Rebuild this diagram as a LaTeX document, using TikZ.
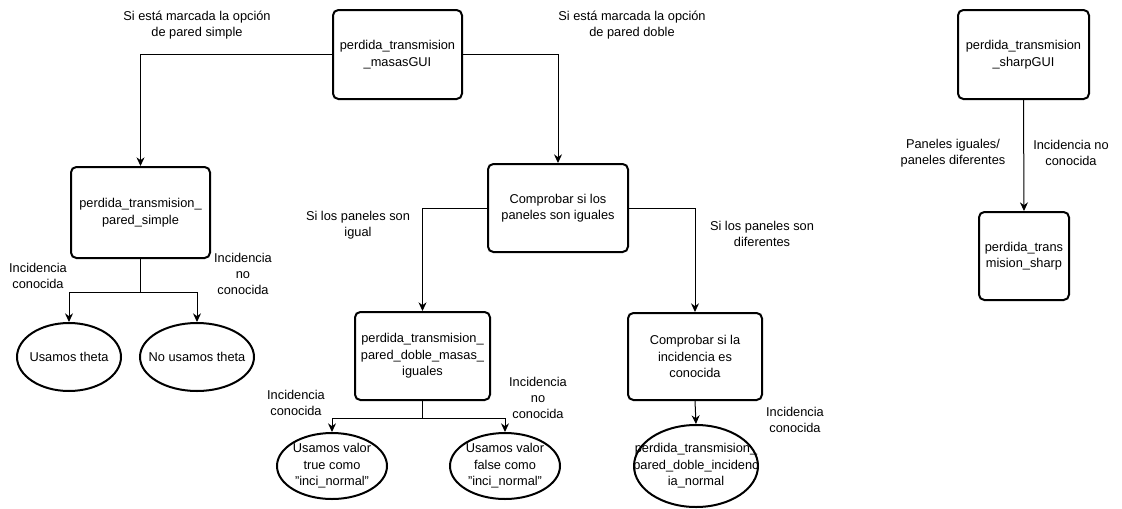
\documentclass[tikz,border=0pt]{standalone}
\usepackage{fontspec}
\setmainfont{Liberation Sans}
\usetikzlibrary{shapes.geometric,arrows.meta}
\newcommand{\dq}{\symbol{34}}
\begin{document}
\begin{tikzpicture}[x=0.75pt,y=-0.75pt,
  every node/.style={font=\fontsize{9.6}{12.3}\selectfont, align=center},
  box/.style={draw, line width=1.5pt, rounded corners=4pt, inner sep=1pt},
  oval/.style={draw, ellipse, line width=1.5pt, inner sep=0pt},
  txt/.style={inner sep=0pt},
  conn/.style={draw, line width=0.75pt, -{Stealth[length=6.5pt,width=6pt]}},
  plain/.style={draw, line width=0.75pt}]
\path[use as bounding box, fill=white] (0,0) rectangle (1122,508);

% main GUI box and first decision
\node[box, minimum width=96.75pt, minimum height=66.75pt] (masas) at (397.5,54.5) {perdida\_transmision\\\_masasGUI};
\node[box, minimum width=104.25pt, minimum height=68.25pt] (simple) at (140.5,212.5) {perdida\_transmision\_\\pared\_simple};
\node[box, minimum width=105pt, minimum height=66pt] (comp) at (558,208) {Comprobar si los\\paneles son iguales};

% single wall branch
\node[oval, minimum width=78pt, minimum height=51pt, label={[txt]center:Usamos theta}] (e1) at (69,357) {};
\node[oval, minimum width=85.5pt, minimum height=51pt, label={[txt]center:No usamos theta}] (e2) at (197,357) {};

% double wall branch
\node[box, minimum width=101.25pt, minimum height=66pt] (dm) at (422.5,356) {perdida\_transmision\_\\pared\_doble\_masas\_\\iguales};
\node[box, minimum width=100.5pt, minimum height=65.25pt] (ib) at (695,356.5) {Comprobar si la\\incidencia es\\conocida};
\node[oval, minimum width=82.5pt, minimum height=49.5pt, label={[txt]center:Usamos valor\\true como\\\dq inci\_normal\dq}] (e3) at (332,466) {};
\node[oval, minimum width=82.5pt, minimum height=49.5pt, label={[txt]center:Usamos valor\\false como\\\dq inci\_normal\dq}] (e4) at (505,466) {};
\node[oval, minimum width=93pt, minimum height=61.5pt, label={[txt]center:perdida\_transmision\_\\pared\_doble\_incidenc\\ia\_normal}] (e5) at (696,466) {};

% sharp model
\node[box, minimum width=98.25pt, minimum height=66.75pt] (sgui) at (1023.5,54.5) {perdida\_transmision\\\_sharpGUI};
\node[box, minimum width=67.5pt, minimum height=66pt] (sharp) at (1024,256) {perdida\_trans\\mision\_sharp};

% junction points
\coordinate (j1) at (140.5,292);
\coordinate (j2) at (422.5,418);

% connectors
\draw[conn] (masas.west) -| (simple.north);
\draw[conn] (masas.east) -| (comp.north);
\draw[plain] (simple.south) -- (j1);
\draw[conn] (j1) -| (e1.north);
\draw[conn] (j1) -| (e2.north);
\draw[conn] (comp.west) -| (dm.north);
\draw[conn] (comp.east) -| (ib.north);
\draw[plain] (dm.south) -- (j2);
\draw[conn] (j2) -| (e3.north);
\draw[conn] (j2) -| (e4.north);
\draw[conn] (ib.south) -- (e5.north);
\draw[conn] (sgui.south) -- (sharp.north);

% edge labels
\node[txt] (l1) at (197,25) {Si está marcada la opción\\de pared simple};
\node[txt] (l2) at (632,25) {Si está marcada la opción\\de pared doble};
\node[txt] (l3) at (38,276) {Incidencia\\conocida};
\node[txt] (l4) at (243,274) {Incidencia\\no\\conocida};
\node[txt] (l5) at (358,225) {Si los paneles son\\igual};
\node[txt] (l6) at (762,234) {Si los paneles son\\diferentes};
\node[txt] (l7) at (296,403) {Incidencia\\conocida};
\node[txt] (l8) at (538,398) {Incidencia\\no\\conocida};
\node[txt] (l9) at (795,420) {Incidencia\\conocida};
\node[txt] (l10) at (953,153) {Paneles iguales/\\paneles diferentes};
\node[txt] (l11) at (1071,153) {Incidencia no\\conocida};
\end{tikzpicture}
\end{document}
